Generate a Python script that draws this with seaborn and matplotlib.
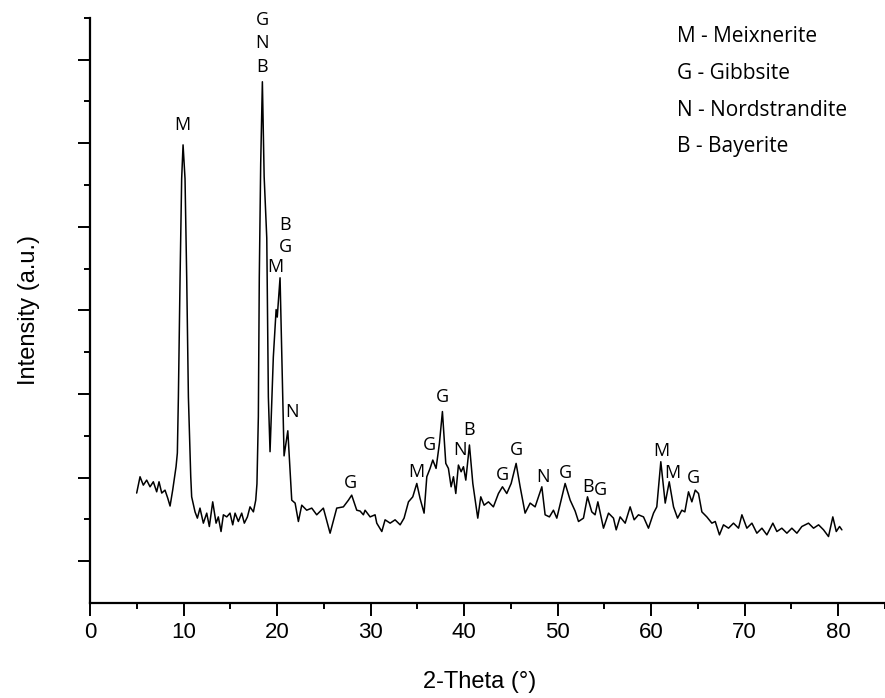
import matplotlib
matplotlib.use("Agg")
import matplotlib.pyplot as plt
import seaborn as sns
import pandas as pd

# XRD pattern (2-theta in degrees, intensity in arbitrary units)
two_theta = [
    4.99, 5.35, 5.70, 6.06, 6.42, 6.77, 7.13, 7.38, 7.67, 8.02, 8.31, 8.56, 8.84,
    9.20, 9.34, 9.45, 9.63, 9.80, 9.95, 10.16, 10.34, 10.52, 10.77, 10.87, 11.23,
    11.48, 11.76, 12.12, 12.48, 12.76, 13.12, 13.48, 13.72, 14.01, 14.26, 14.62,
    14.97, 15.26, 15.51, 15.86, 16.22, 16.50, 16.83, 17.11, 17.47, 17.72, 17.85,
    18.00, 18.10, 18.25, 18.43, 18.62, 18.90, 19.07, 19.25, 19.60, 19.90, 20.02,
    20.32, 20.50, 20.75, 21.15, 21.57, 21.93, 22.28, 22.64, 23.17, 23.71, 24.24,
    24.95, 25.67, 26.38, 27.09, 27.63, 27.98, 28.52, 28.88, 29.23, 29.41, 29.95,
    30.48, 30.66, 31.20, 31.55, 32.09, 32.62, 33.16, 33.58, 34.05, 34.51, 34.94,
    35.29, 35.72, 36.01, 36.36, 36.65, 37.00, 37.36, 37.68, 38.04, 38.32, 38.61,
    38.86, 39.11, 39.39, 39.68, 39.93, 40.18, 40.57, 40.93, 41.46, 41.78, 42.14,
    42.60, 43.13, 43.67, 44.10, 44.56, 45.03, 45.56, 45.99, 46.52, 47.06, 47.59,
    47.95, 48.31, 48.66, 49.12, 49.55, 49.91, 50.45, 50.80, 51.34, 51.87, 52.23,
    52.76, 53.19, 53.65, 54.00, 54.30, 54.90, 55.44, 55.97, 56.26, 56.68, 57.22,
    57.75, 58.18, 58.64, 59.18, 59.71, 60.25, 60.60, 61.03, 61.50, 61.93, 62.39,
    62.82, 63.28, 63.60, 63.99, 64.35, 64.71, 65.06, 65.42, 65.95, 66.49, 66.85,
    67.30, 67.73, 68.27, 68.80, 69.34, 69.70, 70.23, 70.77, 71.30, 71.84, 72.37,
    73.01, 73.44, 73.97, 74.51, 75.04, 75.58, 76.11, 76.82, 77.36, 77.90, 78.43,
    78.96, 79.42, 79.79, 80.14, 80.39,
]
intensity = [
    2.63, 3.02, 2.82, 2.94, 2.78, 2.90, 2.66, 2.90, 2.63, 2.70, 2.51, 2.32, 2.70,
    3.26, 3.59, 4.93, 7.78, 10.15, 10.96, 10.15, 7.78, 4.93, 3.03, 2.54, 2.18,
    2.03, 2.27, 1.91, 2.15, 1.83, 2.42, 1.91, 2.06, 1.71, 2.11, 2.06,
    2.15, 1.87, 2.15, 1.95, 2.15, 1.91, 2.06, 2.30, 2.18, 2.46, 2.85,
    4.46, 7.78, 10.50, 12.47, 10.20, 8.73, 4.93, 3.62, 5.88, 7.02, 6.84,
    7.78, 6.00, 3.52, 4.12, 2.46, 2.39, 1.95, 2.34, 2.22, 2.27, 2.11,
    2.27, 1.67, 2.27, 2.30, 2.46, 2.58, 2.22, 2.20, 2.11, 2.22, 2.06,
    2.11, 1.91, 1.71, 1.99, 1.91, 1.99, 1.87, 2.03, 2.42, 2.54, 2.86,
    2.50, 2.15, 3.02, 3.22, 3.42, 3.22, 3.82, 4.58, 3.34, 3.22, 2.78,
    3.02, 2.62, 3.30, 3.14, 3.26, 2.94, 3.78, 2.86, 2.03, 2.54, 2.34,
    2.42, 2.30, 2.62, 2.78, 2.62, 2.86, 3.34, 2.78, 2.15, 2.39, 2.30,
    2.54, 2.78, 2.11, 2.06, 2.22, 2.03, 2.54, 2.86, 2.46, 2.20, 1.95,
    2.03, 2.54, 2.18, 2.11, 2.42, 1.79, 2.15, 2.03, 1.75, 2.06, 1.91,
    2.30, 1.99, 2.11, 2.06, 1.79, 2.15, 2.30, 3.38, 2.39, 2.90, 2.30,
    2.03, 2.22, 2.18, 2.66, 2.42, 2.70, 2.62, 2.18, 2.06, 1.91, 1.95,
    1.63, 1.87, 1.79, 1.91, 1.79, 2.11, 1.79, 1.91, 1.67, 1.79, 1.63,
    1.91, 1.71, 1.79, 1.67, 1.79, 1.67, 1.83, 1.91, 1.79, 1.87, 1.75,
    1.59, 2.06, 1.71, 1.83, 1.75,
]

# phase markers: letter, 2-theta, height of the letter
peak_letters = ["M", "G", "N", "B", "M", "B", "G", "N", "G", "M", "G", "G", "N",
                "B", "G", "G", "N", "G", "B", "G", "M", "M", "G"]
peak_theta = [9.84, 18.40, 18.40, 18.40, 19.79, 20.86, 20.86, 21.57, 27.88, 34.87,
              36.29, 37.68, 39.57, 40.57, 44.14, 45.56, 48.42, 50.80, 53.29, 54.62,
              61.04, 62.21, 64.52]
peak_height = [11.44, 13.95, 13.40, 12.82, 8.05, 9.04, 8.52, 4.58, 2.86, 3.14,
               3.78, 4.94, 3.66, 4.14, 3.06, 3.66, 3.02, 3.10, 2.77, 2.70,
               3.64, 3.12, 2.98]

legend_lines = ["M - Meixnerite", "G - Gibbsite", "N - Nordstrandite", "B - Bayerite"]

x_ticks = [0, 10, 20, 30, 40, 50, 60, 70, 80]

label_font = ["Open Sans", "Noto Sans", "DejaVu Sans"]


def main():
    df = pd.DataFrame({"two_theta": two_theta, "intensity": intensity})

    sns.set_theme(style="ticks")
    plt.rcParams["font.family"] = ["Liberation Sans Narrow", "Liberation Sans", "DejaVu Sans"]

    fig = plt.figure(figsize=(8.85, 6.98), dpi=100)
    ax = fig.add_axes([90 / 885, 95 / 698, 795 / 885, (603 - 17.8) / 698])

    sns.lineplot(data=df, x="two_theta", y="intensity", color="black",
                 linewidth=1.1, ax=ax)

    ax.set_xlim(0, 85)
    ax.set_ylim(0, 14)
    ax.set_xticks(x_ticks)
    ax.set_xticks([5, 15, 25, 35, 45, 55, 65, 75, 85], minor=True)
    ax.set_yticks([1, 3, 5, 7, 9, 11, 13])
    ax.set_yticks([2, 4, 6, 8, 10, 12, 14], minor=True)
    ax.set_yticklabels([])
    ax.tick_params(axis="both", which="major", length=9, width=1.4, direction="out",
                   color="black")
    ax.tick_params(axis="both", which="minor", length=4.5, width=1.4, direction="out",
                   color="black")
    ax.tick_params(axis="x", labelsize=16, pad=5, labelcolor="black")

    sns.despine(ax=ax)
    for side in ["left", "bottom"]:
        ax.spines[side].set_linewidth(1.6)
        ax.spines[side].set_color("black")

    ax.set_xlabel("2-Theta (°)", fontsize=17, color="black")
    ax.set_ylabel("Intensity (a.u.)", fontsize=17, color="black")
    ax.xaxis.set_label_coords(0.49, -0.116)
    ax.yaxis.set_label_coords(-0.063, 0.5)

    for letter, t, h in zip(peak_letters, peak_theta, peak_height):
        ax.text(t, h, letter, ha="center", va="center", fontsize=13,
                family=label_font, color="black")

    for i, line in enumerate(legend_lines):
        ax.text(0.738, 0.9677 - i * 0.0627, line, transform=ax.transAxes,
                ha="left", va="center", fontsize=15,
                family=label_font, color="black")

    fig.savefig("out.png", dpi=100)


if __name__ == "__main__":
    main()
